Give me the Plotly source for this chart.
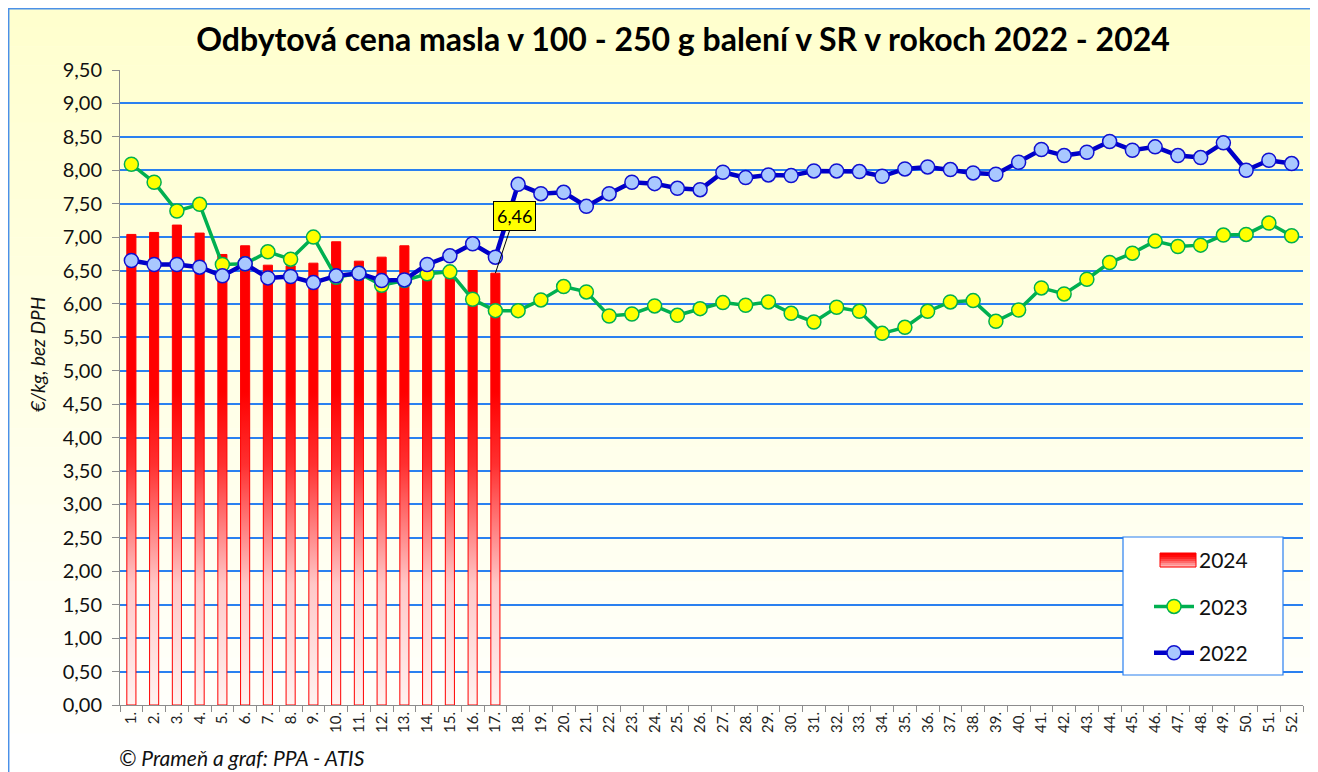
import plotly.graph_objects as go

# ---------------- data ----------------
weeks = list(range(1, 53))
week_labels = [f"{w}." for w in weeks]

price_2024 = [7.04, 7.07, 7.18, 7.06, 6.74, 6.87, 6.58, 6.57, 6.61, 6.93,
              6.64, 6.70, 6.87, 6.49, 6.52, 6.50, 6.46]

price_2023 = [8.09, 7.82, 7.39, 7.49, 6.59, 6.60, 6.78, 6.67, 7.00, 6.40,
              6.46, 6.28, 6.35, 6.45, 6.48, 6.07, 5.90,
              5.90, 6.06, 6.26, 6.18, 5.82, 5.85, 5.97, 5.83, 5.93,
              6.02, 5.98, 6.03, 5.86, 5.73, 5.95, 5.89, 5.56,
              5.65, 5.89, 6.03, 6.05, 5.74, 5.91, 6.24, 6.15, 6.37,
              6.62, 6.76, 6.94, 6.86, 6.88, 7.03, 7.04, 7.21, 7.02]

price_2022 = [6.65, 6.59, 6.59, 6.55, 6.42, 6.60, 6.39, 6.41, 6.32, 6.42,
              6.46, 6.35, 6.36, 6.59, 6.72, 6.90, 6.70,
              7.79, 7.65, 7.67, 7.46, 7.65, 7.82, 7.80, 7.73, 7.71,
              7.97, 7.89, 7.93, 7.92, 7.99, 7.99, 7.98, 7.91,
              8.02, 8.05, 8.01, 7.96, 7.94, 8.12, 8.31, 8.22, 8.27,
              8.43, 8.30, 8.35, 8.22, 8.19, 8.41, 8.00, 8.15, 8.10]

y_ticks = [i * 0.5 for i in range(20)]

title_text = "Odbytová cena masla v 100 - 250 g balení v SR v rokoch 2022 - 2024"
y_title = "€/kg, bez DPH"
source_text = "© Prameň a graf: PPA - ATIS"

FONT = "Lato"

# ---------------- layout geometry (page pixels; page body has 8px margin) ----------------
OFF = 8
W, H = 1310, 764
ML, MT = 112, 62
PW, PH = 1183, 635
MR = W - ML - PW
MB = H - MT - PH


def px_x(p):
    return (p - OFF - ML) / PW


def px_y(p):
    return (MT + PH - (p - OFF)) / PH


fig = go.Figure()

# legend entry for the 2024 bars (its swatch is drawn as a gradient box below)
fig.add_trace(go.Scatter(
    x=[None], y=[None], mode="lines", name="2024",
    line=dict(color="rgba(0,0,0,0)", width=0), legendgroup="g1",
))

# bars for 2024 drawn as filled polygons (gradient fill) on the numeric axis
half = 0.2
bx, by = [], []
for w, v in zip(weeks[:len(price_2024)], price_2024):
    bx += [w - half, w - half, w + half, w + half, w - half, None]
    by += [0, v, v, 0, 0, None]

fig.add_trace(go.Scatter(
    x=bx, y=by, mode="lines", fill="toself", name="2024",
    line=dict(color="#FF0000", width=1),
    fillcolor="#FF2020",
    fillgradient=dict(type="vertical", start=0, stop=7.2,
                      colorscale=[[0, "#FFF2F0"], [0.25, "#FFC8C8"],
                                  [0.5, "#FF3030"], [0.65, "#FF0000"],
                                  [1, "#FF0000"]]),
    legendgroup="g1", showlegend=False, hoverinfo="skip",
))

fig.add_trace(go.Scatter(
    x=weeks, y=price_2023, mode="lines+markers", name="2023",
    line=dict(color="#00B050", width=3.5),
    marker=dict(size=14, color="#FFFF00", line=dict(color="#00B050", width=1.5)),
    legendgroup="g2",
))

fig.add_trace(go.Scatter(
    x=weeks, y=price_2022, mode="lines+markers", name="2022",
    line=dict(color="#0000C8", width=4.5),
    marker=dict(size=14, color="#A9C8FF", line=dict(color="#1010D0", width=1.5)),
    legendgroup="g3",
))

# ---------------- background gradient ----------------
shapes = []
top_px, bot_px = 8, 772
n = 40
for i in range(n):
    t = i / (n - 1)
    b = int(round(206 + (255 - 206) * t))
    y0 = top_px + (bot_px - top_px) * i / n
    y1 = top_px + (bot_px - top_px) * (i + 1) / n
    shapes.append(dict(type="rect", xref="paper", yref="paper",
                       x0=px_x(8), x1=px_x(1330), y0=px_y(y1 + 0.5), y1=px_y(y0),
                       fillcolor=f"rgb(255,255,{b})", line=dict(width=0),
                       layer="below"))
# outer chart border
shapes.append(dict(type="rect", xref="paper", yref="paper",
                   x0=px_x(8.7), x1=px_x(1340), y0=px_y(790), y1=px_y(8.7),
                   line=dict(color="#4A90E8", width=1.5), fillcolor="rgba(0,0,0,0)",
                   layer="below"))
# legend box
shapes.append(dict(type="rect", xref="paper", yref="paper",
                   x0=px_x(1123), x1=px_x(1283), y0=px_y(675), y1=px_y(537),
                   line=dict(color="#2A80F0", width=1.2), fillcolor="white",
                   layer="above"))
# legend swatch for bar series (red gradient box)
sw_cols = ["#FF0000", "#FF0A0A", "#FF2222", "#FF4444", "#FF6A6A", "#FF9090", "#FFB0B0"]
sw_top, sw_bot = 553, 567
step = (sw_bot - sw_top) / len(sw_cols)
for i, c in enumerate(sw_cols):
    shapes.append(dict(type="rect", xref="paper", yref="paper",
                       x0=px_x(1160), x1=px_x(1196),
                       y0=px_y(sw_top + step * (i + 1) + 0.3), y1=px_y(sw_top + step * i),
                       fillcolor=c, line=dict(width=0), layer="above"))
shapes.append(dict(type="rect", xref="paper", yref="paper",
                   x0=px_x(1160), x1=px_x(1196), y0=px_y(sw_bot), y1=px_y(sw_top),
                   fillcolor="rgba(0,0,0,0)", line=dict(color="#FF0000", width=1),
                   layer="above"))

annotations = [
    dict(x=17, y=price_2024[16], xref="x", yref="y",
         text=f"{price_2024[16]:.2f}".replace(".", ","),
         showarrow=True, arrowhead=0, arrowwidth=1, arrowcolor="black",
         ax=19, ay=-57, bgcolor="#FFFF00", bordercolor="black", borderwidth=1,
         borderpad=3, font=dict(size=18, color="black", family=FONT)),
    dict(x=px_x(117), y=px_y(757), xref="paper", yref="paper",
         text=f"<i>{source_text}</i>", showarrow=False, xanchor="left",
         yanchor="middle", font=dict(size=21, color="#111", family=FONT)),
    dict(x=px_x(37), y=px_y(355), xref="paper", yref="paper",
         text=f"<i>{y_title}</i>", showarrow=False, textangle=-90,
         xanchor="center", yanchor="middle",
         font=dict(size=19, color="#111", family=FONT)),
]

fig.update_layout(
    width=W, height=H,
    margin=dict(l=ML, r=MR, t=MT, b=MB),
    paper_bgcolor="white",
    plot_bgcolor="rgba(0,0,0,0)",
    separators=", ",
    title=dict(text=f"<b>{title_text}</b>", x=(683 - OFF) / W, xanchor="center",
               y=1 - (40 - OFF) / H, yanchor="middle", xref="container", yref="container",
               font=dict(size=32, color="black", family=FONT)),
    showlegend=True,
    legend=dict(x=px_x(1149), y=px_y(540), xanchor="left", yanchor="top",
                bgcolor="rgba(0,0,0,0)", borderwidth=0,
                font=dict(size=21, color="#111", family=FONT),
                tracegroupgap=16, itemwidth=40, traceorder="grouped"),
    shapes=shapes,
    annotations=annotations,
    hovermode=False,
)

fig.update_xaxes(
    range=[0.5, 52.5], tickmode="array", tickvals=weeks, ticktext=week_labels,
    tickangle=-90, ticks="", showgrid=False, zeroline=False,
    showline=True, linecolor="#8C8C8C", linewidth=1,
    tickfont=dict(size=15, color="#222", family=FONT),
    minor=dict(tickmode="array", tickvals=[w + 0.5 for w in [0] + weeks],
               ticks="outside", ticklen=6, tickcolor="#8C8C8C", showgrid=False),
)

fig.update_yaxes(
    range=[0, 9.5], tickmode="array", tickvals=y_ticks, tickformat=".2f",
    ticks="outside", ticklen=7, tickcolor="#8C8C8C",
    showgrid=True, gridcolor="#2A80F0", gridwidth=1.5, zeroline=False,
    showline=True, linecolor="#8C8C8C", linewidth=1,
    tickfont=dict(size=20, color="#111", family=FONT),
    ticklabelstandoff=6,
)

fig.write_html("out.html")
